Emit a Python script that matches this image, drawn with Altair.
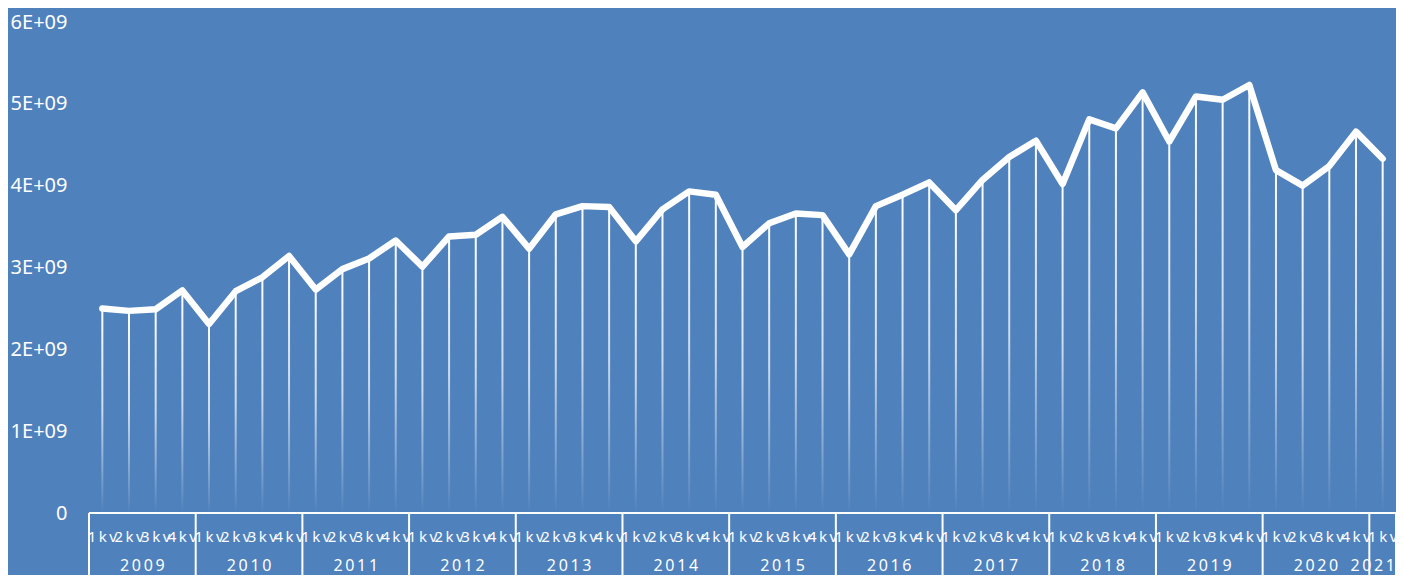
import altair as alt
import pandas as pd

years = [2009, 2010, 2011, 2012, 2013, 2014, 2015, 2016, 2017, 2018, 2019, 2020, 2021]
quarters = ["1kv", "2kv", "3kv", "4kv"]
values = [
    2.50e9, 2.47e9, 2.49e9, 2.72e9,
    2.31e9, 2.71e9, 2.88e9, 3.14e9,
    2.73e9, 2.98e9, 3.11e9, 3.33e9,
    3.01e9, 3.38e9, 3.40e9, 3.62e9,
    3.23e9, 3.65e9, 3.75e9, 3.74e9,
    3.32e9, 3.71e9, 3.93e9, 3.89e9,
    3.25e9, 3.54e9, 3.66e9, 3.64e9,
    3.16e9, 3.75e9, 3.89e9, 4.04e9,
    3.70e9, 4.07e9, 4.35e9, 4.55e9,
    4.02e9, 4.81e9, 4.70e9, 5.14e9,
    4.54e9, 5.09e9, 5.05e9, 5.23e9,
    4.19e9, 4.00e9, 4.24e9, 4.66e9,
    4.33e9,
]
y_ticks = [0, 1e9, 2e9, 3e9, 4e9, 5e9, 6e9]

BG = "#4F81BD"
W, H = 1307, 491
PAD = {"left": 81, "top": 14, "right": 0, "bottom": 62}

rows = []
for i, v in enumerate(values):
    yr = years[i // 4]
    q = quarters[i % 4]
    rows.append({"idx": i, "year": yr, "quarter": q,
                 "qlabel": "\u2009".join(q), "value": v})
df = pd.DataFrame(rows)

grp = df.groupby("year")["idx"].agg(["min", "max"]).reset_index()
grp["center"] = (grp["min"] + grp["max"]) / 2
grp["right"] = grp["max"] + 0.5
grp["ylabel"] = grp["year"].astype(str).apply(lambda s: "\u2009".join(s))
grp_main = grp.iloc[:-1]
grp_last = grp.iloc[-1:]
bounds = sorted(set((grp["min"] - 0.5).tolist() + (grp["max"] + 0.5).tolist()))
bdf = pd.DataFrame({"b": bounds})
axdf = pd.DataFrame({"a": [-0.5], "b": [len(values) - 0.5], "z": [0]})

xscale = alt.Scale(domain=[-0.5, len(values) - 0.5], nice=False, zero=False,
                   padding=0)
yscale = alt.Scale(domain=[0, 6e9], nice=False, padding=0)

base = alt.Chart(df)

drops = base.mark_bar(
    size=2,
    fill=alt.Gradient(
        gradient="linear", x1=0, y1=0, x2=0, y2=1,
        stops=[
            alt.GradientStop(offset=0, color="rgba(255,255,255,1)"),
            alt.GradientStop(offset=0.5, color="rgba(255,255,255,0.7)"),
            alt.GradientStop(offset=1, color="rgba(255,255,255,0.0)"),
        ],
    ),
).encode(
    x=alt.X("idx:Q", scale=xscale, axis=None),
    y=alt.Y("value:Q", scale=yscale, axis=alt.Axis(
        values=y_ticks, title=None, domain=False, ticks=False, grid=False,
        labelColor="white", labelFont="Noto Sans", labelFontSize=20,
        labelPadding=22,
        labelExpr="datum.value == 0 ? '0' : format(datum.value / 1e9, 'd') + 'E+09'",
    )),
    y2=alt.datum(0),
)

line = base.mark_line(color="white", strokeWidth=6.5, strokeJoin="round",
                      strokeCap="round").encode(
    x=alt.X("idx:Q", scale=xscale),
    y=alt.Y("value:Q", scale=yscale),
)

axis_line = alt.Chart(axdf).mark_rule(color="white", strokeWidth=2).encode(
    x=alt.X("a:Q", scale=xscale),
    x2="b:Q",
    y=alt.Y("z:Q", scale=yscale),
)

seps = alt.Chart(bdf).mark_rule(color="white", strokeWidth=2).encode(
    x=alt.X("b:Q", scale=xscale),
    y=alt.value(H),
    y2=alt.value(H + PAD["bottom"]),
)

qtext = base.mark_text(color="white", font="Noto Sans", fontSize=15,
                       baseline="middle", align="center").encode(
    x=alt.X("idx:Q", scale=xscale),
    y=alt.value(H + 24),
    text="qlabel:N",
)

ytext = alt.Chart(grp_main).mark_text(color="white", font="Noto Sans", fontSize=16,
                                      baseline="middle", align="center").encode(
    x=alt.X("center:Q", scale=xscale),
    y=alt.value(H + 53),
    text="ylabel:N",
)

ytext_last = alt.Chart(grp_last).mark_text(color="white", font="Noto Sans",
                                           fontSize=16, baseline="middle",
                                           align="right", dx=-1).encode(
    x=alt.X("right:Q", scale=xscale),
    y=alt.value(H + 53),
    text="ylabel:N",
)

chart = alt.layer(drops, line, axis_line, seps, qtext, ytext, ytext_last).properties(
    width=W, height=H,
    autosize=alt.AutoSizeParams(type="none"),
    padding=PAD,
    background=BG,
).configure_view(strokeWidth=0)

chart.save("out.html", embed_options={"renderer": "svg", "actions": False})
